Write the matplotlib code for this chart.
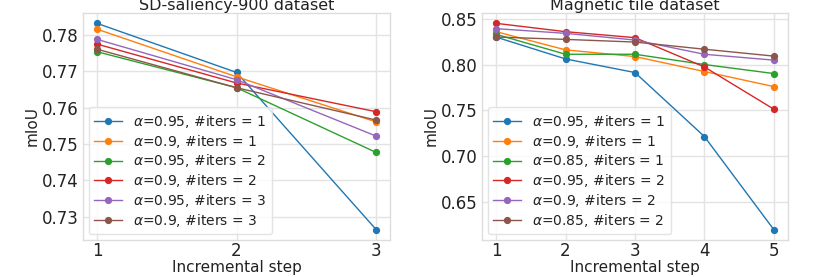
import matplotlib
matplotlib.use("Agg")
import matplotlib.pyplot as plt

# Left panel: SD-saliency-900 dataset
steps_sd = [1, 2, 3]
labels_sd = [r"$\alpha$=0.95, #iters = 1", r"$\alpha$=0.9, #iters = 1",
             r"$\alpha$=0.95, #iters = 2", r"$\alpha$=0.9, #iters = 2",
             r"$\alpha$=0.95, #iters = 3", r"$\alpha$=0.9, #iters = 3"]
sd_a095_i1 = [0.7832, 0.7697, 0.7265]
sd_a09_i1 = [0.7816, 0.7685, 0.7561]
sd_a095_i2 = [0.7754, 0.7655, 0.7477]
sd_a09_i2 = [0.7775, 0.7668, 0.7589]
sd_a095_i3 = [0.7788, 0.7677, 0.7522]
sd_a09_i3 = [0.7761, 0.7655, 0.7566]

# Right panel: Magnetic tile dataset
steps_mt = [1, 2, 3, 4, 5]
labels_mt = [r"$\alpha$=0.95, #iters = 1", r"$\alpha$=0.9, #iters = 1",
             r"$\alpha$=0.85, #iters = 1", r"$\alpha$=0.95, #iters = 2",
             r"$\alpha$=0.9, #iters = 2", r"$\alpha$=0.85, #iters = 2"]
mt_a095_i1 = [0.8299, 0.8061, 0.7913, 0.7216, 0.6202]
mt_a09_i1 = [0.8358, 0.8160, 0.8087, 0.7924, 0.7760]
mt_a085_i1 = [0.8329, 0.8112, 0.8112, 0.8000, 0.7902]
mt_a095_i2 = [0.8449, 0.8358, 0.8293, 0.7974, 0.7514]
mt_a09_i2 = [0.8391, 0.8340, 0.8267, 0.8112, 0.8048]
mt_a085_i2 = [0.8300, 0.8274, 0.8245, 0.8167, 0.8092]

colors = ["#1f77b4", "#ff7f0e", "#2ca02c", "#d62728", "#9467bd", "#8c564b"]

plt.rcParams.update({
    "font.family": "DejaVu Sans",
    "axes.edgecolor": "#dddddd",
    "axes.linewidth": 1.0,
    "grid.color": "#e3e3e3",
    "grid.linewidth": 1.0,
    "xtick.color": "#222222",
    "ytick.color": "#222222",
    "xtick.major.size": 0,
    "ytick.major.size": 0,
    "text.color": "#222222",
    "axes.labelcolor": "#222222",
})

fig = plt.figure(figsize=(8.3, 2.77), dpi=100)
ax1 = fig.add_axes([0.100, 0.134, 0.370, 0.819])
ax2 = fig.add_axes([0.581, 0.134, 0.368, 0.819])

sd_series = [sd_a095_i1, sd_a09_i1, sd_a095_i2, sd_a09_i2, sd_a095_i3, sd_a09_i3]
mt_series = [mt_a095_i1, mt_a09_i1, mt_a085_i1, mt_a095_i2, mt_a09_i2, mt_a085_i2]

for ax, steps, series, labels, title, yticks, yfmt in [
    (ax1, steps_sd, sd_series, labels_sd, "SD-saliency-900 dataset",
     [0.73, 0.74, 0.75, 0.76, 0.77, 0.78], "{:.2f}"),
    (ax2, steps_mt, mt_series, labels_mt, "Magnetic tile dataset",
     [0.65, 0.70, 0.75, 0.80, 0.85], "{:.2f}"),
]:
    for vals, lab, c in zip(series, labels, colors):
        ax.plot(steps, vals, marker="o", markersize=4.2, linewidth=1.0,
                color=c, label=lab)
    ax.grid(True)
    ax.set_axisbelow(True)
    ax.set_xticks(steps)
    ax.set_yticks(yticks)
    ax.set_yticklabels([yfmt.format(v) for v in yticks])
    ax.tick_params(axis="y", labelsize=12, pad=3)
    ax.tick_params(axis="x", labelsize=12, pad=1.5)
    ax.set_xlabel("Incremental step", fontsize=11, labelpad=0)
    ax.set_ylabel("mIoU", fontsize=11, labelpad=2)
    ax.set_title(title, fontsize=11.5, pad=2)
    leg = ax.legend(loc="lower left", fontsize=10, frameon=True,
                    handlelength=2.0, borderaxespad=0.4, labelspacing=0.2)
    leg.get_frame().set_edgecolor("#dddddd")

fig.savefig("out.png", dpi=100)
